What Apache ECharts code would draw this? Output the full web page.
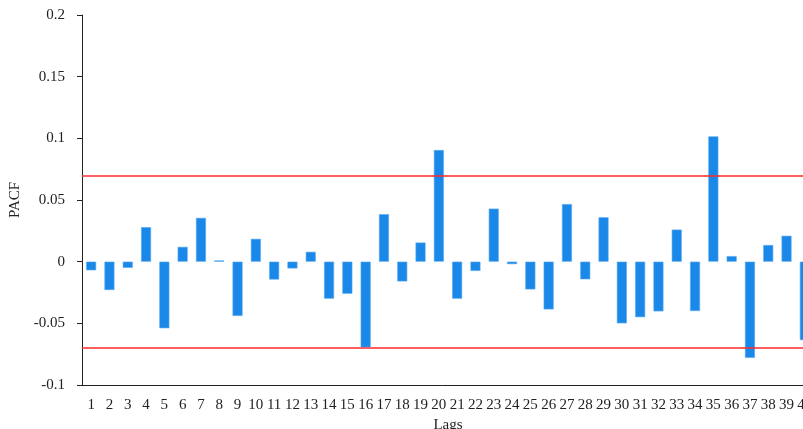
<!DOCTYPE html>
<html>
<head>
<meta charset="utf-8">
<script src="https://cdn.jsdelivr.net/npm/echarts@6/dist/echarts.min.js"></script>
<style>
  html, body { margin: 0; padding: 0; background: #fff; overflow: hidden; }
  #main { width: 803px; height: 429px; }
</style>
</head>
<body>
<div id="main"></div>
<script>
// lags 1..40
const lags = [];
for (let i = 1; i <= 40; i++) lags.push(String(i));

const pacf = [
  -0.007, -0.023, -0.005, 0.028, -0.054, 0.012, 0.0355, 0.001, -0.044, 0.0185,
  -0.0145, -0.0055, 0.008, -0.030, -0.026, -0.0695, 0.0385, -0.016, 0.0155, 0.0905,
  -0.030, -0.0075, 0.043, -0.002, -0.0225, -0.0387, 0.0467, -0.0143, 0.036, -0.050,
  -0.045, -0.0403, 0.026, -0.040, 0.1016, 0.0045, -0.078, 0.0135, 0.021, -0.0636
];

// confidence bounds
const bounds = [0.07, -0.07];

const font = 'Liberation Serif';
const chart = echarts.init(document.getElementById('main'), null, { renderer: 'canvas' });

const option = {
  animation: false,
  grid: { left: 82, top: 15, bottom: 44, width: 732, outerBoundsMode: 'none', containLabel: false },
  xAxis: {
    type: 'category',
    data: lags,
    name: 'Lags',
    nameLocation: 'middle',
    nameGap: 33,
    nameTextStyle: { fontFamily: font, fontSize: 15, color: '#222' },
    axisLine: { onZero: false, lineStyle: { color: '#222', width: 1 } },
    axisTick: { alignWithLabel: true, length: 5, lineStyle: { color: '#222' } },
    axisLabel: { fontFamily: font, fontSize: 15, color: '#222', margin: 13, interval: 0 },
    splitLine: { show: false }
  },
  yAxis: {
    type: 'value',
    min: -0.1,
    max: 0.2,
    interval: 0.05,
    name: 'PACF',
    nameLocation: 'middle',
    nameGap: 52,
    nameTextStyle: { fontFamily: font, fontSize: 15, color: '#222' },
    axisLine: { show: true, lineStyle: { color: '#222', width: 1 } },
    axisTick: { show: true, length: 5, lineStyle: { color: '#222' } },
    axisLabel: {
      fontFamily: font, fontSize: 15, color: '#222', margin: 17,
      formatter: v => String(Math.round(v * 100) / 100)
    },
    splitLine: { show: false }
  },
  series: [{
    type: 'bar',
    data: pacf,
    barWidth: 10,
    itemStyle: { color: '#1a88e8', borderColor: '#5aaaf0', borderWidth: 0.6 },
    markLine: {
      silent: true,
      symbol: 'none',
      label: { show: false },
      lineStyle: { color: '#ff2a2a', width: 1.5, type: 'solid' },
      data: bounds.map(b => ({ yAxis: b }))
    }
  }]
};

chart.setOption(option);
</script>
</body>
</html>
